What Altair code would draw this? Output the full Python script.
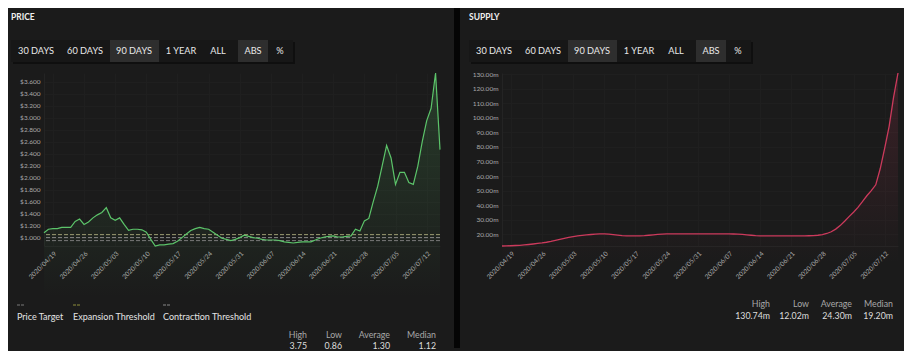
import altair as alt
import pandas as pd

# ---------------- data ----------------
START = "2020-04-17"
price = [1.08, 1.14, 1.15, 1.15, 1.17, 1.17, 1.17, 1.27, 1.31, 1.22,
         1.26, 1.33, 1.38, 1.42, 1.50, 1.33, 1.29, 1.33, 1.22, 1.12,
         1.14, 1.14, 1.13, 1.09, 0.97, 0.86, 0.88, 0.88, 0.89, 0.90,
         0.94, 1.00, 1.06, 1.12, 1.15, 1.17, 1.15, 1.14, 1.09, 1.04,
         0.99, 0.97, 0.95, 0.97, 1.00, 1.04, 1.02, 1.00, 0.99, 0.97,
         0.96, 0.96, 0.96, 0.95, 0.93, 0.92, 0.91, 0.92, 0.93, 0.93,
         0.93, 0.96, 0.99, 1.01, 1.02, 1.03, 1.01, 1.01, 1.02, 1.03,
         1.14, 1.11, 1.28, 1.32, 1.60, 1.86, 2.20, 2.54, 2.33, 1.89,
         2.09, 2.09, 1.92, 1.89, 2.19, 2.60, 2.95, 3.16, 3.75, 2.47]
supply = [12.02, 12.10, 12.20, 12.35, 12.50, 12.75, 13.05, 13.40, 13.75, 14.10,
          14.60, 15.20, 15.90, 16.60, 17.30, 17.90, 18.40, 18.90, 19.30, 19.60,
          19.90, 20.10, 20.30, 20.30, 20.10, 19.80, 19.50, 19.20, 19.00, 18.90,
          18.90, 19.00, 19.10, 19.40, 19.70, 20.00, 20.20, 20.30, 20.30, 20.30,
          20.30, 20.30, 20.35, 20.35, 20.30, 20.30, 20.30, 20.30, 20.30, 20.30,
          20.30, 20.30, 20.25, 20.20, 20.00, 19.70, 19.40, 19.10, 19.00, 18.95,
          18.90, 18.90, 18.90, 18.90, 18.90, 18.90, 18.90, 18.95, 19.00, 19.05,
          19.15, 19.40, 19.90, 20.60, 21.80, 23.60, 26.00, 29.00, 32.20, 35.20,
          38.50, 42.40, 46.50, 50.00, 54.00, 65.00, 79.00, 94.00, 114.00, 130.74]
threshold_names = ["Expansion Threshold", "Price Target", "Contraction Threshold"]
threshold_values = [1.05, 1.00, 0.95]
legend_names = ["Price Target", "Expansion Threshold", "Contraction Threshold"]
price_ticks = [1.0, 1.2, 1.4, 1.6, 1.8, 2.0, 2.2, 2.4, 2.6, 2.8, 3.0, 3.2, 3.4, 3.6]
supply_ticks = [20, 30, 40, 50, 60, 70, 80, 90, 100, 110, 120, 130]
tick_dates = ["2020-04-19", "2020-04-26", "2020-05-03", "2020-05-10", "2020-05-17",
              "2020-05-24", "2020-05-31", "2020-06-07", "2020-06-14", "2020-06-21",
              "2020-06-28", "2020-07-05", "2020-07-12"]
buttons = ["30 DAYS", "60 DAYS", "90 DAYS", "1 YEAR", "ALL", "ABS", "%"]
stat_names = ["High", "Low", "Average", "Median"]
price_stats = ["3.75", "0.86", "1.30", "1.12"]
price_domain = [0.86, 3.75]
supply_stats = ["130.74m", "12.02m", "24.30m", "19.20m"]
supply_domain = [12.02, 130.74]

dates = pd.date_range(START, periods=len(price), freq="D")
price_df = pd.DataFrame({"date": dates, "price": price})
supply_df = pd.DataFrame({"date": dates, "supply": supply})
thr_df = pd.DataFrame({"name": threshold_names, "value": threshold_values})

# ---------------- style ----------------
FONT = "Lato"
W, H = 396, 173
PANEL = "#1b1b1b"
GREEN = "#5cc46a"
RED = "#cc3a5c"
THR_COLORS = ["#9c9c72", "#8a8a8a", "#7a7a7a"]
LEG_COLORS = ["#7a7a7a", "#8f8f3c", "#8a8a8a"]
BTN_X = [-8, 41, 90, 137, 174, 209, 236]

ONE = alt.Data(values=[{"k": 0}])


def deco_text(s, x, y, size=9.0, color="#e4e4e4", align="center", weight="normal"):
    return alt.Chart(ONE).mark_text(
        text=s, font=FONT, fontSize=size, color=color, align=align,
        baseline="middle", fontWeight=weight
    ).encode(x=alt.value(x), y=alt.value(y))


def deco_rect(x, x2, y, y2, color, opacity=1.0):
    return alt.Chart(ONE).mark_rect(color=color, opacity=opacity).encode(
        x=alt.value(x), x2=alt.value(x2), y=alt.value(y), y2=alt.value(y2))


def deco_rule(x, x2, y, color):
    return alt.Chart(ONE).mark_rule(color=color, strokeWidth=1, strokeDash=[3, 1]).encode(
        x=alt.value(x), x2=alt.value(x2), y=alt.value(y))


def header(title):
    layers = [deco_text(title, -33, -56, size=8.5, color="#f0f0f0", align="left", weight="bold"),
              deco_rect(-31, 251, -31, -9, "#0f0f0f"),
              deco_rect(-33, 249, -33, -11, "#171717"),
              deco_rect(66, 115, -33, -11, "#2e2e2e"),
              deco_rect(194, 224, -33, -11, "#2e2e2e")]
    for b, x in zip(buttons, BTN_X):
        layers.append(deco_text(b, x, -22, size=9.2, color="#e8e8e8"))
    return layers


def stats(values, xs, y_lab, y_val):
    out = []
    for n, v, x in zip(stat_names, values, xs):
        out.append(deco_text(n, x, y_lab, size=8.8, color="#a8a8a8", align="right"))
        out.append(deco_text(v, x, y_val, size=8.8, color="#dedede", align="right"))
    return out


x_axis = alt.Axis(
    values=[alt.DateTime(year=d.year, month=d.month, date=d.day) for d in pd.to_datetime(tick_dates)],
    format="%Y/%m/%d", labelAngle=-45, title=None)
x_enc = alt.X("date:T", scale=alt.Scale(nice=False), axis=x_axis)

# ---------------- price panel ----------------
p_scale = alt.Scale(domain=price_domain, nice=False, zero=False)
p_axis = alt.Axis(values=price_ticks, format="$.3f", title=None)
p_y = alt.Y("price:Q", scale=p_scale, axis=p_axis)

p_area = alt.Chart(price_df).mark_area(
    color=alt.Gradient(gradient="linear",
                       stops=[alt.GradientStop(color="rgba(92,196,106,0)", offset=0),
                              alt.GradientStop(color="rgba(92,196,106,0.2)", offset=1)],
                       x1=1, x2=1, y1=1, y2=0)
).encode(x=x_enc, y=p_y)
p_line = alt.Chart(price_df).mark_line(color=GREEN, strokeWidth=1.2).encode(x=x_enc, y=p_y)
p_rules = alt.Chart(thr_df).mark_rule(strokeDash=[4, 2], strokeWidth=1).encode(
    y=alt.Y("value:Q", scale=p_scale, axis=p_axis),
    color=alt.Color("name:N", scale=alt.Scale(domain=threshold_names, range=THR_COLORS), legend=None))

legend_layers = []
for name, col, x in zip(legend_names, LEG_COLORS, [-27, 29, 119]):
    legend_layers.append(deco_rule(x, x + 7, 232, col))
    legend_layers.append(deco_text(name, x, 244, size=9, color="#e4e4e4", align="left"))

price_panel = alt.layer(
    deco_rect(-36, 410, -65, 275, PANEL, opacity=0),
    deco_rect(410, 416, -65, 275, "#050505"),
    *header("PRICE"),
    p_area, p_rules, p_line,
    *legend_layers,
    *stats(price_stats, [263, 298, 346, 392], 262, 273),
).properties(width=W, height=H)

# ---------------- supply panel ----------------
s_scale = alt.Scale(domain=supply_domain, nice=False, zero=False)
s_axis = alt.Axis(values=supply_ticks, labelExpr="format(datum.value, '.2f') + 'm'", title=None)
s_y = alt.Y("supply:Q", scale=s_scale, axis=s_axis)

s_area = alt.Chart(supply_df).mark_area(
    color=alt.Gradient(gradient="linear",
                       stops=[alt.GradientStop(color="rgba(204,58,92,0)", offset=0),
                              alt.GradientStop(color="rgba(204,58,92,0.18)", offset=1)],
                       x1=1, x2=1, y1=1, y2=0)
).encode(x=x_enc, y=s_y)
s_line = alt.Chart(supply_df).mark_line(color=RED, strokeWidth=1.3).encode(x=x_enc, y=s_y)

supply_panel = alt.layer(
    deco_rect(-43, 402, -65, 275, PANEL, opacity=0),
    *header("SUPPLY"),
    s_area, s_line,
    *stats(supply_stats, [268, 307, 350, 391], 231, 243),
).properties(width=W, height=H)

chart = alt.hconcat(price_panel, supply_panel, spacing=62, bounds="flush").properties(
    background=PANEL, padding=0
).configure_view(strokeWidth=0).configure_axis(
    labelFont=FONT, labelFontSize=6.5, labelColor="#a9a9a9", ticks=False,
    domain=True, domainColor="#242424", gridColor="#1f1f1f", labelPadding=4
)

chart.save("out.html", embed_options={"renderer": "svg", "actions": False})
